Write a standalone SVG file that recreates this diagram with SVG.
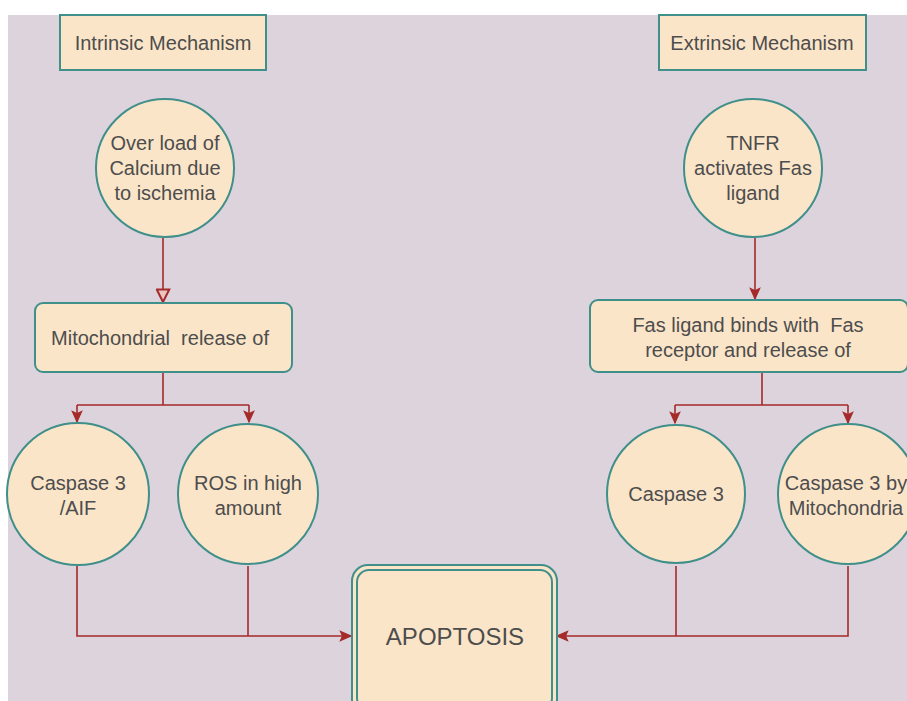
<svg xmlns="http://www.w3.org/2000/svg" width="907" height="701" viewBox="0 0 907 701">
<style>
.n{fill:#fbe5c9;stroke:#3f8f8a;stroke-width:2}
.t{font-family:"Liberation Sans",Arial,sans-serif;font-size:20px;fill:#4d4d4d;text-anchor:middle}
.c{fill:none;stroke:#a52a2a;stroke-width:1.6}
</style>
<defs>
<marker id="a" viewBox="0 0 10 10" refX="9" refY="5" markerWidth="13" markerHeight="13" markerUnits="userSpaceOnUse" orient="auto"><path d="M0,0.5L10,5L0,9.5L2,5z" fill="#a52a2a"/></marker>
<marker id="h" viewBox="0 0 12 12" refX="11" refY="6" markerWidth="15" markerHeight="15" markerUnits="userSpaceOnUse" orient="auto"><path d="M1,1L11,6L1,11z" fill="#e9c6c0" stroke="#a52a2a" stroke-width="1.6"/></marker>
</defs>
<rect width="907" height="701" fill="#ffffff"/>
<rect x="8" y="15" width="899" height="686" fill="#dcd3dc"/>
<g id="connectors">
<path class="c" d="M163,238V302" marker-end="url(#h)"/>
<path class="c" d="M163,372V405M77,405H249M77,405V422" marker-end="url(#a)"/>
<path class="c" d="M249,405V422" marker-end="url(#a)"/>
<path class="c" d="M755,238V299" marker-end="url(#a)"/>
<path class="c" d="M762,372V405M675,405H848M675,405V423" marker-end="url(#a)"/>
<path class="c" d="M848,405V423" marker-end="url(#a)"/>
<path class="c" d="M77,566V636H351" marker-end="url(#a)"/>
<path class="c" d="M248,566V636"/>
<path class="c" d="M848,566V636H557" marker-end="url(#a)"/>
<path class="c" d="M676,566V636"/>
</g>
<g id="intrinsic"><rect class="n" x="60" y="15" width="206" height="55"/><text class="t" x="163" y="50">Intrinsic Mechanism</text></g>
<g id="extrinsic"><rect class="n" x="659" y="15" width="207" height="55"/><text class="t" x="762" y="50">Extrinsic Mechanism</text></g>
<g id="calcium"><circle class="n" cx="165" cy="168" r="69"/><text class="t" x="165" y="150">Over load of</text><text class="t" x="165" y="175">Calcium due</text><text class="t" x="165" y="200">to ischemia</text></g>
<g id="tnfr"><circle class="n" cx="753" cy="168" r="69"/><text class="t" x="753" y="150">TNFR</text><text class="t" x="753" y="175">activates Fas</text><text class="t" x="753" y="200">ligand</text></g>
<g id="mito"><rect class="n" x="35" y="303" width="257" height="69" rx="8"/><text class="t" x="160" y="345" xml:space="preserve">Mitochondrial  release of</text></g>
<g id="fas"><rect class="n" x="590" y="300" width="318" height="72" rx="8"/><text class="t" x="748" y="332" xml:space="preserve">Fas ligand binds with  Fas</text><text class="t" x="748" y="357">receptor and release of</text></g>
<g id="casp-aif"><circle class="n" cx="78" cy="494" r="71"/><text class="t" x="78" y="490">Caspase 3</text><text class="t" x="78" y="515">/AIF</text></g>
<g id="ros"><circle class="n" cx="248" cy="494" r="70"/><text class="t" x="248" y="490">ROS in high</text><text class="t" x="248" y="515">amount</text></g>
<g id="casp3"><circle class="n" cx="676" cy="494" r="69"/><text class="t" x="676" y="501">Caspase 3</text></g>
<g id="casp-mito"><circle class="n" cx="848" cy="494" r="70"/><text class="t" x="846" y="490">Caspase 3 by</text><text class="t" x="846" y="515">Mitochondria</text></g>
<g id="apoptosis"><rect x="352" y="565" width="205" height="150" rx="16" fill="#fbe5c9" stroke="#3f8f8a" stroke-width="2"/><rect x="357" y="570" width="195" height="140" rx="12" fill="none" stroke="#3f8f8a" stroke-width="2"/><text class="t" x="455" y="645" style="font-size:24px">APOPTOSIS</text></g>
</svg>
